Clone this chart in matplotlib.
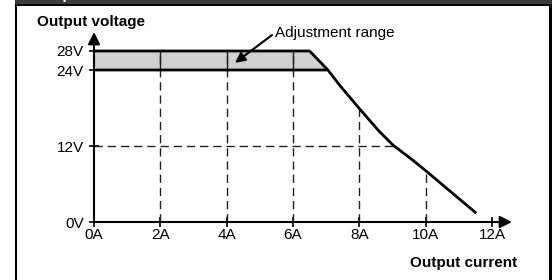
import numpy as np
import matplotlib
matplotlib.use('Agg')
import matplotlib.pyplot as plt
from matplotlib.patches import Rectangle, Polygon

plt.rcParams['font.family'] = 'Liberation Sans'

# Output current (A) vs output voltage (V)
band_top_x = [0, 6.5, 7.05]
band_top_y = [28, 28, 24]
curve_x = [0, 7.05, 7.42, 8.0, 8.6, 9.0, 9.3, 9.6, 10.0, 11.52]
curve_y = [24, 24, 21.5, 17.9, 14.3, 12.2, 11.0, 9.8, 8.1, 1.4]

x_ticks = [0, 2, 4, 6, 8, 10, 12]
x_labels = ['0A', '2A', '4A', '6A', '8A', '10A', '12A']
y_ticks = [0, 12, 24, 28]
y_labels = ['0V', '12V', '24V', '28V']

# y axis is squeezed above 24V in the original drawing
yv = [0, 12, 24, 28, 40]
yp = [0, 12, 24, 27, 36]


def fwd(v):
    return np.interp(v, yv, yp)


def inv(p):
    return np.interp(p, yp, yv)


W, H = 552, 280
fig = plt.figure(figsize=(W / 100, H / 100), dpi=100)
ax = fig.add_axes([94 / W, 58 / H, 418 / W, 190 / H])
ax.set_yscale('function', functions=(fwd, inv))
ax.set_xlim(0, 12.6)
ax.set_ylim(0, 32)

# dashed guide lines
dash = dict(color='#222222', lw=1, dashes=(6, 3.5))
for x in [2, 4, 6]:
    ax.plot([x, x], [0, 28], **dash)
for x in [8, 10]:
    ax.plot([x, x], [0, np.interp(x, curve_x, curve_y)], **dash)
x12 = np.interp(12, curve_y[::-1], curve_x[::-1])
ax.plot([0, x12], [12, 12], **dash)

# adjustment band
band = Polygon(list(zip(band_top_x, band_top_y)) + [(0, 24)], closed=True,
               facecolor='#d0d0d0', edgecolor='none', zorder=1)
ax.add_patch(band)
for x in [2, 4, 6]:
    ax.plot([x, x], [24, 28], color='#222222', lw=1, zorder=1.5)
ax.plot(band_top_x, band_top_y, color='k', lw=2, zorder=3, solid_capstyle='butt')
ax.plot(curve_x, curve_y, color='k', lw=2, zorder=3, solid_capstyle='butt',
        solid_joinstyle='round')

# axes with arrow heads
for s in ax.spines.values():
    s.set_visible(False)
arr = dict(arrowstyle='-|>', lw=1.5, color='k', mutation_scale=18,
           shrinkA=0, shrinkB=0)
ax.annotate('', xy=(0, 1), xytext=(0, 0), xycoords='axes fraction', arrowprops=arr)
ax.annotate('', xy=(1, 0), xytext=(0, 0), xycoords='axes fraction', arrowprops=arr)

ax.set_xticks(x_ticks)
ax.set_xticklabels(x_labels)
ax.set_yticks(y_ticks)
ax.set_yticklabels(y_labels)
ax.yaxis.set_minor_locator(matplotlib.ticker.NullLocator())
ax.tick_params(direction='inout', length=7, width=1.2, labelsize=11)
ax.tick_params(axis='x', pad=1)
ax.tick_params(axis='y', pad=4)

ax.annotate('Adjustment range', xy=(4.25, 25.5), xytext=(5.45, 31.8),
            fontsize=11, ha='left', va='center', annotation_clip=False,
            arrowprops=dict(arrowstyle='-|>', lw=1.5, color='k',
                            mutation_scale=15, shrinkA=0, shrinkB=0,
                            relpos=(0, 0.5)))

fig.text(37 / W, 1 - 22 / H, 'Output voltage', fontsize=11, fontweight='bold',
         ha='left', va='center')
fig.text(517 / W, 1 - 263 / H, 'Output current', fontsize=11, fontweight='bold',
         ha='right', va='center')

# frame around the figure
fig.add_artist(Rectangle((15 / W, 0), 2 / W, 1, transform=fig.transFigure,
                         color='k', lw=0))
fig.add_artist(Rectangle((549 / W, 0), 3 / W, 1, transform=fig.transFigure,
                         color='k', lw=0))
fig.add_artist(Rectangle((15 / W, 1 - 4 / H), 537 / W, 4 / H,
                         transform=fig.transFigure, color='#3c3c3c', lw=0))
fig.add_artist(Rectangle((15 / W, 1 - 6 / H), 537 / W, 2 / H,
                         transform=fig.transFigure, color='k', lw=0))
# title of the box, only its descenders show below the top edge
fig.text(36 / W, 1 + 0.5 / H, 'Output characteristics', color='white',
         fontsize=11, fontweight='bold', ha='left', va='baseline')

fig.savefig('out.png', dpi=100)
